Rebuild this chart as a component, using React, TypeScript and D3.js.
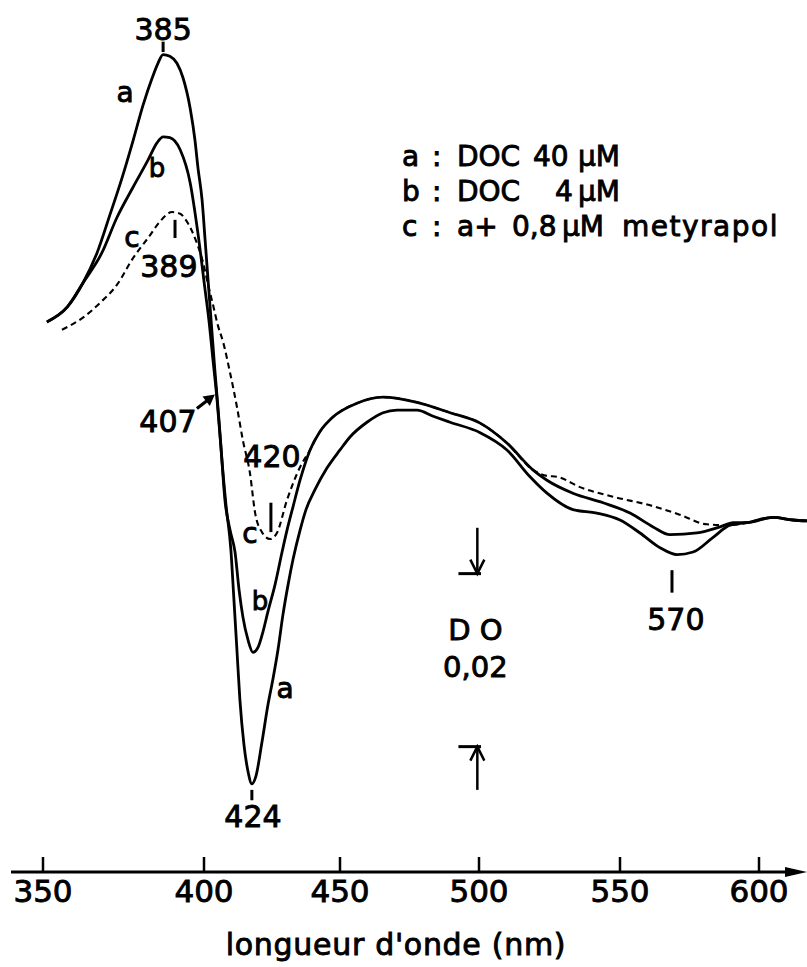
import React from "react";
import * as d3 from "d3";

// x axis ticks (wavelength, nm)
const TICK_NM = [350, 400, 450, 500, 550, 600];
const TICK_LABELS = ["350", "400", "450", "500", "550", "600"];

// curve a : DOC 40 µM  (wavelength nm, ΔDO ×1000)
const A_NM = [351.2, 357.5, 362.4, 366.8, 370.8, 374.5, 378.0, 381.1, 383.9, 385.7, 387.3, 389.4, 391.6, 393.5, 395.7, 397.2, 398.1, 399.4, 400.4, 401.5, 402.6, 404.0, 405.5, 406.6, 408.1, 409.9, 411.0, 412.1, 413.2, 414.7, 416.2, 417.6, 419.1, 421.3, 423.5, 425.4, 427.2, 429.0, 430.9, 432.7, 435.3, 437.5, 440.8, 445.2, 450.0, 453.6, 459.7, 465.5, 470.5, 477.7, 483.5, 489.6, 500.4, 509.9, 518.1, 524.1, 533.3, 541.8, 550.0, 557.2, 564.4, 570.5, 576.3, 583.5, 589.6, 595.7, 605.0, 612.2, 617.3];
const A_DOD = [22.9, 24.6, 27.4, 30.9, 35.3, 39.5, 43.9, 48.0, 51.1, 52.8, 53.8, 53.6, 52.8, 51.1, 47.6, 43.9, 40.8, 37.0, 32.4, 27.7, 23.1, 17.3, 11.6, 6.9, 1.7, -3.5, -9.2, -15.0, -20.8, -26.0, -29.1, -30.5, -29.6, -25.7, -21.4, -18.3, -15.0, -11.0, -7.5, -4.6, -1.2, 1.2, 3.5, 6.0, 8.1, 9.6, 11.3, 12.4, 12.7, 12.7, 12.0, 11.3, 10.1, 8.1, 5.0, 3.1, 1.2, 0.8, 0.0, -1.5, -3.2, -4.0, -3.7, -2.0, -0.6, -0.3, 0.3, 0.0, -0.1];

// curve b : DOC 4 µM
const B_NM = [351.2, 357.5, 362.4, 368.3, 373.0, 378.0, 382.6, 385.4, 387.3, 389.4, 392.6, 395.7, 398.1, 400.4, 401.8, 403.3, 404.8, 406.3, 407.7, 409.6, 411.4, 412.9, 414.3, 416.2, 418.0, 419.9, 421.7, 423.5, 426.1, 428.7, 430.5, 432.7, 435.3, 439.0, 442.6, 447.4, 456.1, 465.5, 477.7, 489.6, 500.4, 509.9, 519.1, 524.1, 533.3, 544.0, 553.6, 561.9, 568.0, 577.7, 586.0, 590.7, 595.7, 605.0, 612.2, 617.3];
const B_DOD = [22.9, 24.6, 27.4, 30.9, 35.0, 38.5, 41.6, 43.6, 44.3, 44.2, 42.8, 39.0, 33.2, 26.6, 23.1, 18.5, 13.9, 8.1, 2.3, -1.2, -3.7, -8.1, -11.2, -13.9, -15.3, -14.7, -12.9, -10.6, -7.5, -3.7, -1.2, 1.5, 4.6, 8.1, 10.2, 11.9, 13.5, 14.2, 13.6, 12.4, 11.2, 8.9, 5.8, 4.6, 3.1, 2.0, 0.8, -0.8, -1.7, -1.5, -0.8, -0.3, -0.3, 0.3, 0.0, -0.1];

// curve c : a + 0,8 µM metyrapol
const C_NM = [355.9, 362.4, 367.7, 373.0, 378.0, 383.2, 386.3, 390.1, 392.6, 394.7, 397.8, 399.7, 401.5, 403.3, 405.1, 407.0, 409.6, 412.1, 414.3, 416.9, 418.8, 421.3, 424.3, 426.8, 430.5, 435.3, 439.0, 442.6, 447.4, 456.1, 465.5, 477.7, 489.6, 500.4, 509.9, 519.1, 524.1, 527.7, 535.8, 547.5, 561.9, 571.6, 581.3, 589.6, 595.7, 605.0, 612.2, 617.3];
const C_DOD = [22.0, 23.4, 25.1, 27.2, 30.3, 32.9, 34.5, 35.6, 35.4, 34.5, 32.0, 29.8, 27.2, 24.9, 22.5, 20.6, 17.0, 13.1, 9.2, 5.4, 0.8, -1.4, -2.2, -1.5, 2.3, 6.1, 8.1, 10.2, 11.9, 13.5, 14.2, 13.6, 12.4, 11.2, 8.9, 5.8, 5.1, 5.0, 3.8, 2.7, 1.6, 0.6, -0.5, -0.6, -0.3, 0.3, 0.0, -0.1];

// legend rows
const LEGEND_KEYS = ["a", "b", "c"];
const LEGEND_PARTS = [
  ["DOC", "40", "µM", ""],
  ["DOC", "4", "µM", ""],
  ["a+", "0,8", "µM", "metyrapol"],
];

const W = 807;
const H = 967;
const X_RANGE = [43, 204, 340, 479, 620, 759];
const FONT = "'DejaVu Sans', sans-serif";

export default function App() {
  const x = d3.scaleLinear().domain(TICK_NM).range(X_RANGE);
  const y = d3.scaleLinear().domain([0, 20]).range([520, 347]);
  const line = d3
    .line<[number, number]>()
    .x((d) => x(d[0]))
    .y((d) => y(d[1]))
    .curve(d3.curveMonotoneX);

  const zip = (a: number[], b: number[]) => a.map((v, i) => [v, b[i]] as [number, number]);
  const pathA = line(zip(A_NM, A_DOD)) || "";
  const pathB = line(zip(B_NM, B_DOD)) || "";
  const pathC = line(zip(C_NM, C_DOD)) || "";

  const axisY = 872;
  const txt = {
    fontFamily: FONT,
    fill: "#000",
    stroke: "#000",
    strokeWidth: 0.9,
  } as const;

  // annotations in data coordinates (nm, ΔDO×1000)
  const label = (t: string, nm: number, v: number, size = 30, anchor = "middle") => (
    <text key={t + nm} x={x(nm)} y={y(v)} fontSize={size} textAnchor={anchor} {...txt}>
      {t}
    </text>
  );
  const vtick = (nm: number, v1: number, v2: number, w = 3) => (
    <line key={"t" + nm + v1} x1={x(nm)} x2={x(nm)} y1={y(v1)} y2={y(v2)} stroke="#000" strokeWidth={w} />
  );

  // 407 arrow
  const ax1 = x(397.8), ay1 = y(12.9), ax2 = x(404.0), ay2 = y(14.5);
  const ang = Math.atan2(ay2 - ay1, ax2 - ax1);
  const hl = 11, hw = 6;
  const head = [
    [ax2, ay2],
    [ax2 - hl * Math.cos(ang) + hw * Math.sin(ang), ay2 - hl * Math.sin(ang) - hw * Math.cos(ang)],
    [ax2 - hl * Math.cos(ang) - hw * Math.sin(ang), ay2 - hl * Math.sin(ang) + hw * Math.cos(ang)],
  ];

  // DO scale bar (0,02 = 20 ×1e-3)
  const sbx = x(499.4);
  const sbTop = y(-6.2);
  const sbBot = y(-26.2);
  const sbL = x(492.6);
  const sbR = x(500.7);

  const legendX = [402, 432, 457];
  const legendBase = [166, 201, 236];
  const partX = [
    [457, 533, 578, 0],
    [457, 555, 578, 0],
    [457, 512, 562, 622],
  ];

  return (
    <svg
      width={W}
      height={H}
      style={{ position: "absolute", left: 0, top: 0, background: "#fff" }}
      xmlns="http://www.w3.org/2000/svg"
    >
      <rect x={0} y={0} width={W} height={H} fill="#fff" />
      {/* curves */}
      <path d={pathC} fill="none" stroke="#000" strokeWidth={2.1} strokeDasharray="6,4" />
      <path d={pathA} fill="none" stroke="#000" strokeWidth={2.8} strokeLinejoin="round" />
      <path d={pathB} fill="none" stroke="#000" strokeWidth={2.8} strokeLinejoin="round" />

      {/* x axis */}
      <line x1={11} x2={792} y1={axisY} y2={axisY} stroke="#000" strokeWidth={3} />
      <polygon points={`785,867 807,${axisY} 785,877`} fill="#000" />
      {TICK_NM.map((t, i) => (
        <g key={t}>
          <line x1={x(t)} x2={x(t)} y1={axisY} y2={axisY - 15} stroke="#000" strokeWidth={2.5} />
          <text x={x(t)} y={902} fontSize={31} textAnchor="middle" {...txt}>
            {TICK_LABELS[i]}
          </text>
        </g>
      ))}
      <text x={396} y={955} fontSize={30} textAnchor="middle" letterSpacing={0.7} {...txt}>
        longueur d'onde (nm)
      </text>

      {/* annotations */}
      {label("385", 387.3, 55.5)}
      {vtick(387.3, 55.3, 54.1)}
      {label("a", 375.5, 48.3, 28)}
      {label("b", 385.4, 39.7, 26)}
      {label("c", 377.6, 31.6, 28)}
      {label("389", 389.1, 28.1)}
      {vtick(391.0, 34.7, 32.6)}
      {label("407", 388.8, 10.2)}
      <line x1={ax1} y1={ay1} x2={ax2 - 6 * Math.cos(ang)} y2={ay2 - 6 * Math.sin(ang)} stroke="#000" strokeWidth={3.2} />
      <polygon points={head.map((p) => p.join(",")).join(" ")} fill="#000" />
      {label("420", 425.0, 6.1)}
      {label("c", 416.9, -2.7, 28)}
      {vtick(424.6, 2.0, -1.4)}
      {label("b", 420.6, -10.4, 26)}
      {label("a", 429.8, -20.6, 28)}
      {label("424", 418.0, -35.5)}
      {vtick(417.6, -31.2, -32.4)}
      {label("570", 570.1, -12.7)}
      {vtick(568.7, -5.8, -8.4)}

      {/* DO scale bar */}
      <line x1={sbx} x2={sbx} y1={y(-0.9)} y2={sbTop} stroke="#000" strokeWidth={2.5} />
      <polyline points={`${sbx - 7},${sbTop - 14} ${sbx},${sbTop} ${sbx + 7},${sbTop - 14}`} fill="none" stroke="#000" strokeWidth={2.5} />
      <line x1={sbL} x2={sbR} y1={sbTop} y2={sbTop} stroke="#000" strokeWidth={3} />
      <line x1={sbL} x2={sbR} y1={sbBot} y2={sbBot} stroke="#000" strokeWidth={3} />
      <line x1={sbx} x2={sbx} y1={y(-31.2)} y2={sbBot} stroke="#000" strokeWidth={2.5} />
      <polyline points={`${sbx - 7},${sbBot + 14} ${sbx},${sbBot} ${sbx + 7},${sbBot + 14}`} fill="none" stroke="#000" strokeWidth={2.5} />
      {label("D O", 498.7, -13.9, 29)}
      {label("0,02", 498.7, -18.2, 29)}

      {/* legend */}
      {LEGEND_KEYS.map((k, i) => (
        <g key={k}>
          <text x={legendX[0]} y={legendBase[i]} fontSize={28} {...txt}>{k}</text>
          <text x={legendX[1]} y={legendBase[i]} fontSize={28} {...txt}>:</text>
          {LEGEND_PARTS[i].map((p, j) =>
            p ? (
              <text key={j} x={partX[i][j]} y={legendBase[i]} fontSize={28} letterSpacing={j === 3 ? 1.5 : 0} {...txt}>
                {p}
              </text>
            ) : null
          )}
        </g>
      ))}
    </svg>
  );
}
